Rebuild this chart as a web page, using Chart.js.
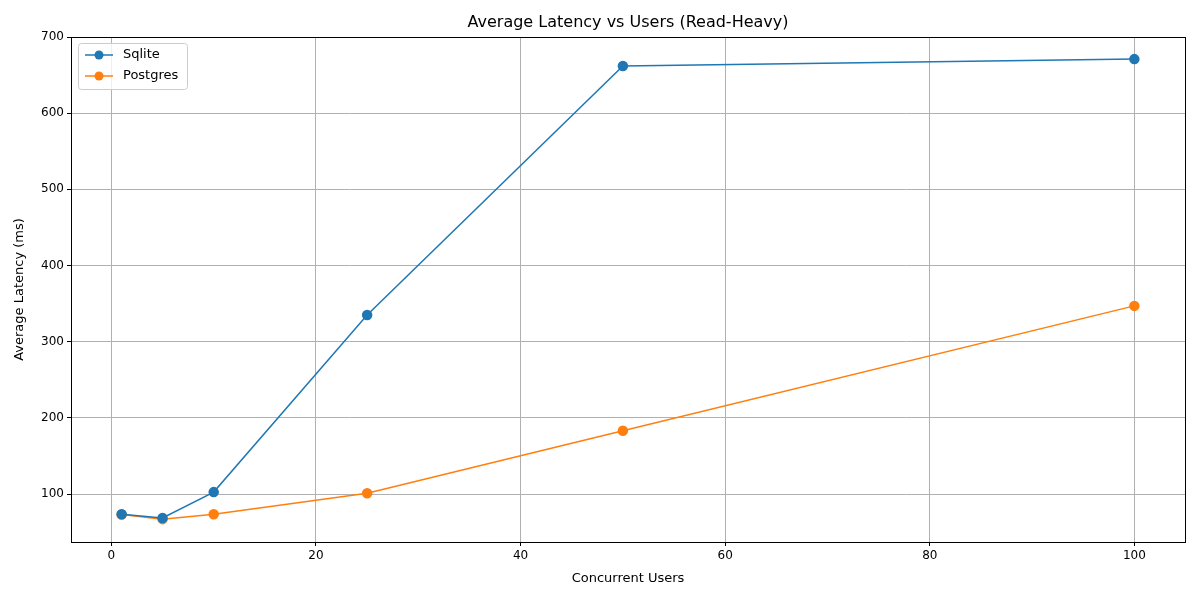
<!DOCTYPE html>
<html>
<head>
<meta charset="utf-8">
<script src="https://cdn.jsdelivr.net/npm/chart.js@4/dist/chart.umd.min.js"></script>
<style>body{margin:0;background:#fff}</style>
</head>
<body>
<canvas id="myChart" width="1200" height="600" style="width:1200px;height:600px"></canvas>
<script>
var users = [1, 5, 10, 25, 50, 100];
var sqlite = [73.5, 68.5, 102.5, 335, 662, 671];
var postgres = [73, 67, 73.5, 101, 183, 347];
var xTicks = [0, 20, 40, 60, 80, 100];
var yTicks = [100, 200, 300, 400, 500, 600, 700];
var seriesNames = ['Sqlite', 'Postgres'];
var colors = ['#1f77b4', '#ff7f0e'];

function pts(ys) {
    return users.map(function (u, i) { return {x: u, y: ys[i]}; });
}

var decor = {
    id: 'decor',
    afterDraw: function (chart) {
        var c = chart.ctx, a = chart.chartArea;
        c.save();
        c.strokeStyle = '#000';
        c.lineWidth = 1;
        c.strokeRect(a.left + 0.5, a.top + 0.5, a.right - a.left, a.bottom - a.top);
        c.fillStyle = '#000';
        c.font = '16px "DejaVu Sans"';
        c.textAlign = 'center';
        c.textBaseline = 'bottom';
        c.fillText('Average Latency vs Users (Read-Heavy)', (a.left + a.right) / 2, a.top - 6);
        // legend
        var lx = a.left + 7, ly = a.top + 6;
        c.fillStyle = 'rgba(255,255,255,0.8)';
        c.strokeStyle = '#cccccc';
        c.beginPath();
        c.roundRect(lx + 0.5, ly + 0.5, 109, 46, 3);
        c.fill(); c.stroke();
        c.font = '13px "DejaVu Sans"';
        c.textAlign = 'left';
        c.textBaseline = 'middle';
        seriesNames.forEach(function (n, i) {
            var y = ly + 12 + i * 21;
            c.strokeStyle = colors[i];
            c.lineWidth = 1.5;
            c.beginPath(); c.moveTo(lx + 7, y); c.lineTo(lx + 35, y); c.stroke();
            c.fillStyle = colors[i];
            c.beginPath(); c.arc(lx + 21, y, 4.5, 0, Math.PI * 2); c.fill();
            c.fillStyle = '#000';
            c.fillText(n, lx + 45, y);
        });
        c.restore();
    }
};

var ctx = document.getElementById('myChart').getContext('2d');
new Chart(ctx, {
    type: 'line',
    data: {
        datasets: [sqlite, postgres].map(function (d, i) {
            return {
                label: seriesNames[i],
                data: pts(d),
                borderColor: colors[i],
                backgroundColor: colors[i],
                borderWidth: 1.5,
                pointRadius: 4.5,
                pointHoverRadius: 4.5,
                tension: 0
            };
        })
    },
    options: {
        responsive: false,
        animation: false,
        devicePixelRatio: 1,
        events: [],
        layout: {padding: {top: 37, right: 15, left: 0, bottom: 0}},
        plugins: {legend: {display: false}, tooltip: {enabled: false}},
        scales: {
            x: {
                type: 'linear',
                min: -3.95, max: 104.95,
                afterBuildTicks: function (s) { s.ticks = xTicks.map(function (v) { return {value: v}; }); },
                afterFit: function (s) { s.height = 58; },
                grid: {color: '#b0b0b0', tickColor: '#000', tickLength: 4},
                border: {display: false},
                ticks: {color: '#000', font: {family: 'DejaVu Sans', size: 12}, maxRotation: 0, autoSkip: false, padding: 3},
                title: {display: true, text: 'Concurrent Users', color: '#000',
                        font: {family: 'DejaVu Sans', size: 13}, padding: {top: 0, bottom: 14}}
            },
            y: {
                min: 37, max: 700,
                afterBuildTicks: function (s) { s.ticks = yTicks.map(function (v) { return {value: v}; }); },
                afterFit: function (s) { s.width = 71; },
                grid: {color: '#b0b0b0', tickColor: '#000', tickLength: 4},
                border: {display: false},
                ticks: {color: '#000', font: {family: 'DejaVu Sans', size: 12}, autoSkip: false, padding: 3},
                title: {display: true, text: 'Average Latency (ms)', color: '#000',
                        font: {family: 'DejaVu Sans', size: 13}, padding: {top: 12, bottom: 0}}
            }
        }
    },
    plugins: [decor]
});
</script>
</body>
</html>
